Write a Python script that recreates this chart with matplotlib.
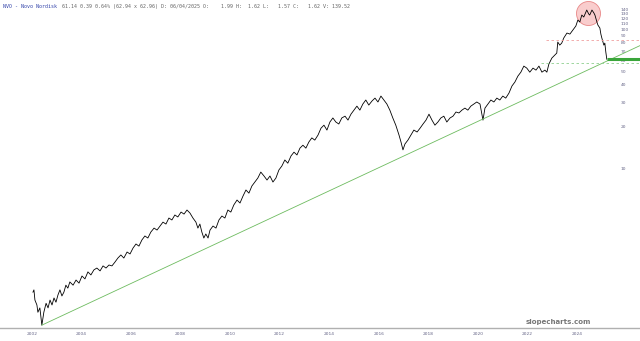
"""NVO - Novo Nordisk log price chart in slopecharts style."""

import matplotlib
matplotlib.use("Agg")
import matplotlib.pyplot as plt

# price history (decimal year, adjusted close)
years = [
    2002.04, 2002.08, 2002.12, 2002.20, 2002.24, 2002.32, 2002.40, 2002.48, 2002.57, 2002.65,
    2002.73, 2002.81, 2002.89, 2002.97, 2003.05, 2003.13, 2003.21, 2003.29, 2003.37, 2003.45,
    2003.53, 2003.66, 2003.78, 2003.90, 2004.02, 2004.14, 2004.26, 2004.38, 2004.50, 2004.62,
    2004.75, 2004.87, 2004.99, 2005.11, 2005.23, 2005.35, 2005.47, 2005.59, 2005.71, 2005.84,
    2005.96, 2006.08, 2006.20, 2006.32, 2006.44, 2006.56, 2006.68, 2006.80, 2006.93, 2007.05,
    2007.17, 2007.29, 2007.41, 2007.53, 2007.65, 2007.77, 2007.89, 2008.02, 2008.14, 2008.26,
    2008.38, 2008.50, 2008.62, 2008.70, 2008.78, 2008.86, 2008.94, 2009.02, 2009.11, 2009.19,
    2009.31, 2009.43, 2009.55, 2009.67, 2009.79, 2009.91, 2010.03, 2010.15, 2010.28, 2010.40,
    2010.52, 2010.64, 2010.76, 2010.88, 2011.00, 2011.12, 2011.24, 2011.37, 2011.49, 2011.61,
    2011.73, 2011.85, 2011.97, 2012.09, 2012.21, 2012.33, 2012.46, 2012.58, 2012.70, 2012.82,
    2012.94, 2013.06, 2013.18, 2013.30, 2013.42, 2013.55, 2013.67, 2013.79, 2013.91, 2014.03,
    2014.15, 2014.27, 2014.39, 2014.51, 2014.64, 2014.76, 2014.88, 2015.00, 2015.12, 2015.24,
    2015.36, 2015.48, 2015.60, 2015.73, 2015.85, 2015.97, 2016.09, 2016.21, 2016.33, 2016.45,
    2016.57, 2016.69, 2016.82, 2016.90, 2016.98, 2017.06, 2017.18, 2017.30, 2017.42, 2017.55,
    2017.67, 2017.79, 2017.91, 2018.03, 2018.15, 2018.27, 2018.39, 2018.51, 2018.63, 2018.75,
    2018.88, 2019.00, 2019.12, 2019.24, 2019.36, 2019.48, 2019.60, 2019.72, 2019.84, 2019.96,
    2020.09, 2020.21, 2020.29, 2020.41, 2020.53, 2020.65, 2020.77, 2020.89, 2021.01, 2021.13,
    2021.26, 2021.38, 2021.50, 2021.62, 2021.74, 2021.86, 2021.98, 2022.10, 2022.23, 2022.35,
    2022.47, 2022.59, 2022.71, 2022.79, 2022.87, 2022.99, 2023.11, 2023.19, 2023.23, 2023.31,
    2023.39, 2023.47, 2023.60, 2023.72, 2023.84, 2023.96, 2024.04, 2024.12, 2024.20, 2024.28,
    2024.40, 2024.48, 2024.52, 2024.61, 2024.69, 2024.73, 2024.81, 2024.85, 2024.93, 2024.97,
    2025.01, 2025.09, 2025.13, 2025.17, 2025.21,
]
close = [
    1.31, 1.36, 1.15, 1.06, 0.94, 1.01, 0.76, 0.94, 1.09, 1.01,
    1.15, 1.06, 1.19, 1.11, 1.25, 1.36, 1.23, 1.31, 1.47, 1.40,
    1.55, 1.47, 1.60, 1.52, 1.71, 1.63, 1.83, 1.74, 1.89, 1.95,
    1.86, 2.02, 1.95, 2.05, 2.02, 2.15, 2.30, 2.42, 2.30, 2.54,
    2.46, 2.71, 2.90, 2.80, 3.10, 3.31, 3.20, 3.53, 3.77, 3.65,
    3.90, 4.16, 4.03, 4.45, 4.31, 4.68, 4.53, 4.91, 4.75, 5.08,
    4.83, 4.45, 4.16, 3.77, 4.03, 3.53, 3.20, 3.42, 3.20, 3.65,
    3.90, 3.77, 4.31, 4.60, 4.45, 5.08, 4.91, 5.52, 5.99, 5.70,
    6.39, 7.07, 6.71, 7.55, 8.06, 8.61, 9.50, 8.90, 8.33, 8.90,
    8.06, 8.61, 9.83, 10.5, 11.6, 11.0, 12.4, 13.2, 12.6, 14.1,
    14.8, 14.1, 15.6, 16.7, 16.1, 17.5, 19.6, 20.6, 19.0, 21.7,
    23.2, 21.7, 21.0, 23.2, 23.9, 22.4, 24.7, 26.4, 28.2, 26.4,
    29.2, 31.2, 28.7, 30.7, 32.2, 30.2, 33.3, 31.2, 29.2, 26.4,
    23.2, 20.6, 17.5, 15.6, 13.7, 15.1, 16.1, 17.5, 19.0, 18.4,
    19.6, 21.0, 22.4, 24.7, 22.4, 20.6, 21.7, 23.2, 23.9, 21.7,
    23.2, 23.9, 25.6, 25.2, 26.4, 27.3, 26.4, 28.2, 29.2, 30.2,
    29.2, 22.4, 27.3, 29.2, 31.2, 30.2, 32.2, 31.2, 33.3, 32.2,
    35.0, 39.3, 42.0, 46.3, 49.4, 54.6, 52.8, 49.4, 52.8, 51.1,
    54.6, 49.4, 51.1, 49.4, 56.4, 62.3, 65.5, 67.7, 81.2, 77.2,
    79.8, 86.7, 94.2, 92.6, 99.0, 105.8, 116.7, 113.0, 126.8, 122.7,
    137.7, 128.9, 126.8, 137.7, 131.0, 126.8, 113.0, 107.5, 102.3, 92.6,
    86.7, 77.2, 79.8, 68.8, 61.1,
]

# drawn annotations (price levels)
trend_years = [2002.40, 2026.60]
trend_prices = [0.76, 77.3]
last_close = 61.1
support_level = 57.4
resistance_level = 83.9
top_year, top_price = 2024.45, 132.0

x_ticks = list(range(2002, 2025, 2))
y_ticks = [10, 20, 30, 40, 50, 60, 70, 80, 90, 100, 110, 120, 130, 140]

header_name = "NVO - Novo Nordisk"
header_rest = ("61.14 0.39 0.64% (62.94 x 62.96) D: 06/04/2025 O:    1.99 H:  "
               "1.62 L:   1.57 C:   1.62 V: 139.52")

fig = plt.figure(figsize=(6.4, 3.41), dpi=100)
fig.patch.set_facecolor("white")
ax = fig.add_axes([0, 13 / 341, 1, 328 / 341])
ax.set_yscale("log")
ax.set_xlim(2000.71, 2026.55)
ax.set_ylim(0.725, 162.5)

ax.plot(years, close, color="black", lw=0.6)
ax.plot(trend_years, trend_prices, color="#6dbb5f", lw=0.6)

ax.hlines(last_close, years[-1], 2026.55, color="#3aa53a", lw=2.2)
ax.hlines(support_level, 2022.55, 2026.55, color="#8fd08f", lw=0.6,
          linestyles=(0, (3, 3)))
ax.hlines(resistance_level, 2022.75, 2026.55, color="#f0a0a0", lw=0.6,
          linestyles=(0, (3, 3)))
ax.scatter([top_year], [top_price], s=300, facecolor="#f7b8b8", alpha=0.7,
           edgecolor="#e06060", lw=0.6, zorder=1)

ax.set_xticks(x_ticks)
ax.set_xticklabels([str(y) for y in x_ticks])
ax.tick_params(axis="x", length=0, pad=3, labelsize=3.2, labelcolor="#666688")
ax.yaxis.set_ticks_position("right")
ax.set_yticks(y_ticks)
ax.set_yticklabels([str(v) for v in y_ticks])
ax.yaxis.set_minor_locator(plt.NullLocator())
ax.tick_params(axis="y", length=0, pad=-14, labelsize=3.2, labelcolor="#666688")
for lbl in ax.get_yticklabels():
    lbl.set_horizontalalignment("left")

for side in ["top", "left", "right"]:
    ax.spines[side].set_visible(False)
ax.spines["bottom"].set_color("#b0b0b0")
ax.spines["bottom"].set_linewidth(1.0)

ax.text(0.872, 0.008, "slopecharts.com", transform=ax.transAxes, ha="center",
        va="bottom", fontsize=5.0, color="#777777", fontweight="bold")

fig.text(0.005, 0.988, header_name, ha="left", va="top", fontsize=3.6,
         family="DejaVu Sans Mono", color="#3344aa")
fig.text(0.097, 0.988, header_rest, ha="left", va="top", fontsize=3.6,
         family="DejaVu Sans Mono", color="#666666")

fig.savefig("out.png", dpi=100, facecolor="white")
